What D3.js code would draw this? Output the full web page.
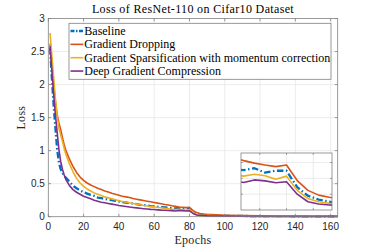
<!DOCTYPE html>
<html>
<head>
<meta charset="utf-8">
<script src="https://cdn.jsdelivr.net/npm/d3@7"></script>
<style>
  body { margin: 0; background: #fff; }
  svg { display: block; }
</style>
</head>
<body>
<div class="chart"></div>
<script>
var epochs = [1,2,3,4,5,6,7,8,9,10,
  12,14,16,18,20,22,24,26,28,30,
  32,34,36,38,40,42,44,46,48,50,
  52,54,56,58,60,62,64,66,68,70,
  72,74,76,78,80,82,84,86,88,
  90,95,100,110,120,130,140,150,164];

var baseline = [2.55,2.10,1.70,1.35,1.02,0.82,0.72,0.66,0.62,0.59,
  0.53,0.47,0.43,0.40,0.37,0.35,0.33,0.315,0.29,0.28,
  0.27,0.26,0.25,0.24,0.23,0.22,0.215,0.205,0.20,0.19,
  0.18,0.175,0.168,0.16,0.155,0.15,0.146,0.14,0.135,0.13,
  0.126,0.132,0.118,0.124,0.124,0.072,0.045,0.033,0.026,
  0.022,0.017,0.014,0.011,0.009,0.008,0.007,0.006,0.006];

var dropping = [2.62,2.30,2.00,1.75,1.55,1.42,1.32,1.20,1.09,1.00,
  0.87,0.76,0.67,0.60,0.55,0.51,0.48,0.455,0.43,0.41,
  0.39,0.375,0.355,0.34,0.325,0.31,0.30,0.29,0.275,0.265,
  0.255,0.245,0.235,0.225,0.215,0.205,0.197,0.185,0.176,0.165,
  0.156,0.148,0.142,0.137,0.142,0.093,0.062,0.047,0.040,
  0.035,0.028,0.023,0.018,0.015,0.013,0.012,0.011,0.010];

var sparsification = [2.78,2.45,2.12,1.80,1.52,1.34,1.24,1.14,1.03,0.94,
  0.80,0.68,0.58,0.51,0.46,0.42,0.39,0.36,0.34,0.32,
  0.30,0.285,0.27,0.255,0.24,0.23,0.22,0.21,0.20,0.19,
  0.18,0.17,0.163,0.155,0.15,0.14,0.135,0.128,0.12,0.113,
  0.107,0.113,0.108,0.097,0.107,0.062,0.036,0.026,0.021,
  0.018,0.013,0.011,0.008,0.007,0.006,0.005,0.005,0.004];

var dgc = [2.58,2.22,1.86,1.55,1.28,1.02,0.84,0.72,0.63,0.56,
  0.47,0.41,0.37,0.34,0.31,0.29,0.27,0.25,0.235,0.22,
  0.21,0.20,0.19,0.18,0.17,0.162,0.155,0.147,0.14,0.133,
  0.127,0.121,0.116,0.111,0.108,0.104,0.10,0.098,0.095,0.092,
  0.087,0.095,0.092,0.086,0.089,0.050,0.026,0.019,0.016,
  0.013,0.010,0.008,0.006,0.005,0.004,0.004,0.003,0.003];

var seriesNames = ["Baseline","Gradient Dropping","Gradient Sparsification with momentum correction","Deep Gradient Compression"];
var seriesValues = [baseline, dropping, sparsification, dgc];
var seriesColors = ["#0072BD","#D95319","#EDB120","#7E2F8E"];
var xTicks = [0,20,40,60,80,100,120,140,160];
var yTicks = [0,0.5,1,1.5,2,2.5,3];
var insetXTicks = [75,80,85];
var insetYTicks = [0.05,0.1,0.15];

var w = 373, h = 249;
var serif = "'Liberation Serif', 'Times New Roman', serif";
var sans = "'Liberation Sans', Arial, sans-serif";
var axisGray = "#808080";
var gridGray = "#e4e4e4";

var svg = d3.select("div.chart").append("svg")
    .attr("width", w).attr("height", h)
    .attr("viewBox", `0 0 ${w} ${h}`);

var plot = {left: 48.3, right: 337.7, top: 18.5, bottom: 216.7};

var x = d3.scaleLinear().domain([0,164]).range([plot.left, plot.right]);
var y = d3.scaleLinear().domain([0,3]).range([plot.bottom, plot.top]);

// background + grid
svg.append("rect").attr("x", plot.left).attr("y", plot.top)
    .attr("width", plot.right - plot.left).attr("height", plot.bottom - plot.top)
    .attr("fill", "#fff");

var grid = svg.append("g").attr("stroke", gridGray).attr("stroke-width", 0.7);
grid.selectAll(".gx").data(xTicks.slice(1)).join("line")
    .attr("x1", d => x(d)).attr("x2", d => x(d))
    .attr("y1", plot.top).attr("y2", plot.bottom);
grid.selectAll(".gy").data(yTicks.slice(1, -1)).join("line")
    .attr("y1", d => y(d)).attr("y2", d => y(d))
    .attr("x1", plot.left).attr("x2", plot.right);

// curves
function makeLine(xs, ys) {
  return d3.line().x((d, i) => xs(epochs[i])).y(d => ys(d));
}

function drawSeries(g, xs, ys) {
  seriesValues.forEach(function(vals, k) {
    g.append("path")
      .datum(vals)
      .attr("d", makeLine(xs, ys))
      .attr("fill", "none")
      .attr("stroke", seriesColors[k])
      .attr("stroke-width", k == 0 ? 2.3 : 1.6)
      .attr("stroke-dasharray", k == 0 ? "6.5,2.5,1.5,2.5" : null)
      .attr("stroke-linejoin", "round");
  });
}

svg.append("clipPath").attr("id", "mainClip").append("rect")
    .attr("x", plot.left).attr("y", plot.top - 2)
    .attr("width", plot.right - plot.left).attr("height", plot.bottom - plot.top + 4);
drawSeries(svg.append("g").attr("clip-path", "url(#mainClip)"), x, y);

// axes box with inward ticks
var box = svg.append("g").attr("stroke", axisGray).attr("stroke-width", 0.8).attr("fill", "none");
box.append("rect").attr("x", plot.left).attr("y", plot.top)
    .attr("width", plot.right - plot.left).attr("height", plot.bottom - plot.top);
xTicks.forEach(function(t) {
  box.append("line").attr("x1", x(t)).attr("x2", x(t)).attr("y1", plot.bottom).attr("y2", plot.bottom - 2.8);
  box.append("line").attr("x1", x(t)).attr("x2", x(t)).attr("y1", plot.top).attr("y2", plot.top + 2.8);
});
yTicks.forEach(function(t) {
  box.append("line").attr("y1", y(t)).attr("y2", y(t)).attr("x1", plot.left).attr("x2", plot.left + 2.8);
  box.append("line").attr("y1", y(t)).attr("y2", y(t)).attr("x1", plot.right).attr("x2", plot.right - 2.8);
});

// tick labels
svg.append("g").selectAll("text").data(xTicks).join("text")
    .attr("x", d => x(d)).attr("y", 229.5)
    .attr("text-anchor", "middle")
    .attr("font-family", sans).attr("font-size", 10).attr("fill", "#262626")
    .text(d => d);
svg.append("g").selectAll("text").data(yTicks).join("text")
    .attr("x", plot.left - 3.5).attr("y", d => y(d) + 3.6)
    .attr("text-anchor", "end")
    .attr("font-family", sans).attr("font-size", 10).attr("fill", "#262626")
    .text(d => d);

// title and labels
svg.append("text").attr("x", (plot.left + plot.right) / 2).attr("y", 12.5)
    .attr("text-anchor", "middle").attr("font-family", serif).attr("font-size", 12)
    .attr("letter-spacing", 0.35)
    .attr("fill", "#000").text("Loss of ResNet-110 on Cifar10 Dataset");
svg.append("text").attr("x", (plot.left + plot.right) / 2).attr("y", 244)
    .attr("text-anchor", "middle").attr("font-family", serif).attr("font-size", 12)
    .attr("letter-spacing", 0.3)
    .attr("fill", "#262626").text("Epochs");
svg.append("text")
    .attr("transform", `translate(25,${(plot.top + plot.bottom) / 2}) rotate(-90)`)
    .attr("text-anchor", "middle").attr("font-family", serif).attr("font-size", 12)
    .attr("letter-spacing", 0.3)
    .attr("fill", "#262626").text("Loss");

// legend
var legend = svg.append("g");
legend.append("rect").attr("x", 69).attr("y", 23.3).attr("width", 262).attr("height", 56)
    .attr("fill", "#fff").attr("stroke", axisGray).attr("stroke-width", 0.8);
seriesNames.forEach(function(name, k) {
  var ly = 31 + k * 13.35;
  legend.append("line").attr("x1", 70.5).attr("x2", 83.3).attr("y1", ly).attr("y2", ly)
      .attr("stroke", seriesColors[k]).attr("stroke-width", k == 0 ? 2.3 : 1.6)
      .attr("stroke-dasharray", k == 0 ? "4,1.5,1.5,1.5" : null);
  legend.append("text").attr("x", 84.3).attr("y", ly + 3.8)
      .attr("font-family", serif).attr("font-size", 12).attr("fill", "#000")
      .attr("textLength", k == 2 ? 246 : null)
      .text(name);
});

// zoomed inset around the learning-rate drop
var inset = {left: 241, right: 332, top: 153, bottom: 210};
var xi = d3.scaleLinear().domain([71.5, 88.5]).range([inset.left, inset.right]);
var yi = d3.scaleLinear().domain([0, 0.18]).range([inset.bottom, inset.top]);

svg.append("rect").attr("x", inset.left).attr("y", inset.top)
    .attr("width", inset.right - inset.left).attr("height", inset.bottom - inset.top)
    .attr("fill", "#fff");
var igrid = svg.append("g").attr("stroke", gridGray).attr("stroke-width", 0.7);
insetXTicks.forEach(function(t) {
  igrid.append("line").attr("x1", xi(t)).attr("x2", xi(t)).attr("y1", inset.top).attr("y2", inset.bottom);
});
insetYTicks.forEach(function(t) {
  igrid.append("line").attr("y1", yi(t)).attr("y2", yi(t)).attr("x1", inset.left).attr("x2", inset.right);
});

svg.append("clipPath").attr("id", "insetClip").append("rect")
    .attr("x", inset.left).attr("y", inset.top)
    .attr("width", inset.right - inset.left).attr("height", inset.bottom - inset.top);
drawSeries(svg.append("g").attr("clip-path", "url(#insetClip)"), xi, yi);

var ibox = svg.append("g").attr("stroke", axisGray).attr("stroke-width", 0.8).attr("fill", "none");
ibox.append("rect").attr("x", inset.left).attr("y", inset.top)
    .attr("width", inset.right - inset.left).attr("height", inset.bottom - inset.top);
insetXTicks.forEach(function(t) {
  ibox.append("line").attr("x1", xi(t)).attr("x2", xi(t)).attr("y1", inset.bottom).attr("y2", inset.bottom - 1.8);
  ibox.append("line").attr("x1", xi(t)).attr("x2", xi(t)).attr("y1", inset.top).attr("y2", inset.top + 1.8);
});
insetYTicks.forEach(function(t) {
  ibox.append("line").attr("y1", yi(t)).attr("y2", yi(t)).attr("x1", inset.left).attr("x2", inset.left + 1.8);
  ibox.append("line").attr("y1", yi(t)).attr("y2", yi(t)).attr("x1", inset.right).attr("x2", inset.right - 1.8);
});
</script>
</body>
</html>
